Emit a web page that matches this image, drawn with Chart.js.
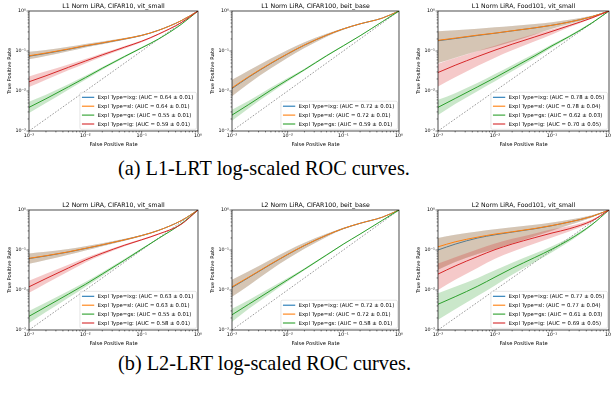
<!DOCTYPE html>
<html>
<head>
<meta charset="utf-8">
<script src="https://cdn.jsdelivr.net/npm/chart.js@4.4.1/dist/chart.umd.min.js"></script>
<style>
  html, body { margin: 0; padding: 0; background: #fff; overflow: hidden; }
  body { width: 611px; height: 394px; position: relative; }
  canvas { position: absolute; }
  .caption { position: absolute; left: 118px; font-family: "Liberation Serif", "Times New Roman", serif; font-size: 20.3px; line-height: 20.3px; white-space: nowrap; color: #000; }
</style>
</head>
<body>
<canvas id="p1" width="206" height="150" style="left:0px;top:0px"></canvas>
<canvas id="p2" width="204" height="150" style="left:203px;top:0px"></canvas>
<canvas id="p3" width="208" height="150" style="left:409px;top:0px"></canvas>
<canvas id="p4" width="206" height="150" style="left:0px;top:199px"></canvas>
<canvas id="p5" width="204" height="150" style="left:203px;top:199px"></canvas>
<canvas id="p6" width="208" height="150" style="left:409px;top:199px"></canvas>
<div class="caption" style="top:158px">(a) L1-LRT log-scaled ROC curves.</div>
<div class="caption" style="top:353px">(b) L2-LRT log-scaled ROC curves.</div>
<script>
// false positive rates where the curves are read
const FPR = [0.001, 0.002, 0.005, 0.01, 0.02, 0.05, 0.1, 0.2, 0.5, 1];
const MAJOR_TICKS = [0.001, 0.01, 0.1, 1];
const TICK_LABELS = ['10⁻³', '10⁻²', '10⁻¹', '10⁰'];

// L1 Norm LiRA, CIFAR10, vit_small
const L1_C10_IXG   = [0.074, 0.087, 0.110, 0.134, 0.158, 0.200, 0.245, 0.330, 0.570, 1];
const L1_C10_SL    = [0.076, 0.089, 0.112, 0.136, 0.160, 0.202, 0.246, 0.330, 0.570, 1];
const L1_C10_SL_LO = [0.062, 0.075, 0.098, 0.123, 0.148, 0.192, 0.238, 0.324, 0.566, 1];
const L1_C10_SL_HI = [0.096, 0.106, 0.128, 0.150, 0.173, 0.212, 0.255, 0.337, 0.575, 1];
const L1_C10_GS    = [0.0039, 0.0064, 0.0127, 0.0215, 0.037, 0.073, 0.120, 0.200, 0.460, 1];
const L1_C10_GS_LO = [0.0028, 0.0050, 0.0108, 0.0190, 0.034, 0.069, 0.115, 0.195, 0.455, 1];
const L1_C10_GS_HI = [0.0054, 0.0081, 0.0148, 0.0240, 0.040, 0.077, 0.125, 0.205, 0.465, 1];
const L1_C10_IG    = [0.017, 0.024, 0.039, 0.056, 0.080, 0.125, 0.175, 0.265, 0.510, 1];
const L1_C10_IG_LO = [0.0125, 0.019, 0.033, 0.049, 0.072, 0.116, 0.166, 0.255, 0.500, 1];
const L1_C10_IG_HI = [0.023, 0.031, 0.046, 0.063, 0.088, 0.134, 0.184, 0.275, 0.520, 1];
const L1_C10_AUC   = ['0.64 ± 0.01', '0.64 ± 0.01', '0.55 ± 0.01', '0.59 ± 0.01'];

// L1 Norm LiRA, CIFAR100, beit_base
const L1_C100_IXG   = [0.0115, 0.0222, 0.0488, 0.0845, 0.140, 0.248, 0.356, 0.477, 0.664, 1];
const L1_C100_SL    = [0.012, 0.0229, 0.0497, 0.0855, 0.141, 0.249, 0.357, 0.477, 0.664, 1];
const L1_C100_SL_LO = [0.0074, 0.0155, 0.0370, 0.0680, 0.119, 0.228, 0.342, 0.467, 0.659, 1];
const L1_C100_SL_HI = [0.019, 0.0325, 0.0650, 0.1060, 0.165, 0.270, 0.373, 0.487, 0.669, 1];
const L1_C100_GS    = [0.0025, 0.0046, 0.0105, 0.019, 0.034, 0.076, 0.135, 0.240, 0.540, 1];
const L1_C100_GS_LO = [0.0018, 0.0037, 0.0090, 0.0172, 0.032, 0.073, 0.131, 0.236, 0.535, 1];
const L1_C100_GS_HI = [0.0034, 0.0057, 0.0122, 0.021, 0.036, 0.079, 0.139, 0.244, 0.545, 1];
const L1_C100_AUC   = ['0.72 ± 0.01', '0.72 ± 0.01', '0.59 ± 0.01'];

// L1 Norm LiRA, Food101, vit_small
const L1_F101_IXG   = [0.180, 0.205, 0.245, 0.278, 0.318, 0.378, 0.440, 0.530, 0.720, 1];
const L1_F101_SL    = [0.185, 0.210, 0.250, 0.280, 0.320, 0.380, 0.440, 0.530, 0.720, 1];
const L1_F101_SL_LO = [0.050, 0.068, 0.100, 0.128, 0.170, 0.260, 0.360, 0.470, 0.690, 1];
const L1_F101_SL_HI = [0.310, 0.330, 0.360, 0.390, 0.420, 0.470, 0.520, 0.600, 0.760, 1];
const L1_F101_GS    = [0.0039, 0.0065, 0.0128, 0.0215, 0.037, 0.076, 0.135, 0.230, 0.500, 1];
const L1_F101_GS_LO = [0.0025, 0.0047, 0.0100, 0.0175, 0.031, 0.067, 0.123, 0.215, 0.480, 1];
const L1_F101_GS_HI = [0.0060, 0.0088, 0.0160, 0.0265, 0.044, 0.086, 0.147, 0.245, 0.520, 1];
const L1_F101_IG    = [0.029, 0.044, 0.073, 0.105, 0.148, 0.225, 0.310, 0.430, 0.670, 1];
const L1_F101_IG_LO = [0.013, 0.022, 0.043, 0.068, 0.104, 0.175, 0.260, 0.390, 0.650, 1];
const L1_F101_IG_HI = [0.048, 0.067, 0.100, 0.135, 0.183, 0.265, 0.350, 0.460, 0.690, 1];
const L1_F101_AUC   = ['0.78 ± 0.05', '0.78 ± 0.04', '0.62 ± 0.03', '0.70 ± 0.05'];

// L2 Norm LiRA, CIFAR10, vit_small
const L2_C10_IXG   = [0.061, 0.071, 0.089, 0.109, 0.134, 0.180, 0.230, 0.310, 0.540, 1];
const L2_C10_SL    = [0.062, 0.072, 0.090, 0.110, 0.135, 0.180, 0.230, 0.310, 0.540, 1];
const L2_C10_SL_LO = [0.045, 0.056, 0.076, 0.097, 0.124, 0.171, 0.222, 0.305, 0.535, 1];
const L2_C10_SL_HI = [0.082, 0.090, 0.106, 0.124, 0.147, 0.190, 0.238, 0.315, 0.545, 1];
const L2_C10_GS    = [0.0022, 0.0038, 0.0079, 0.0138, 0.0251, 0.056, 0.105, 0.195, 0.447, 1];
const L2_C10_GS_LO = [0.0015, 0.0028, 0.0064, 0.0119, 0.0225, 0.052, 0.100, 0.190, 0.442, 1];
const L2_C10_GS_HI = [0.0030, 0.0049, 0.0095, 0.0158, 0.0278, 0.060, 0.110, 0.200, 0.452, 1];
const L2_C10_IG    = [0.012, 0.0193, 0.0355, 0.056, 0.083, 0.132, 0.180, 0.251, 0.436, 1];
const L2_C10_IG_LO = [0.0085, 0.0145, 0.029, 0.049, 0.075, 0.124, 0.172, 0.244, 0.430, 1];
const L2_C10_IG_HI = [0.017, 0.0255, 0.043, 0.064, 0.091, 0.140, 0.188, 0.258, 0.442, 1];
const L2_C10_AUC   = ['0.63 ± 0.01', '0.63 ± 0.01', '0.55 ± 0.01', '0.58 ± 0.01'];

// L2 Norm LiRA, CIFAR100, beit_base
const L2_C100_IXG   = [0.0115, 0.0205, 0.044, 0.077, 0.129, 0.234, 0.344, 0.465, 0.660, 1];
const L2_C100_SL    = [0.012, 0.021, 0.045, 0.078, 0.130, 0.235, 0.345, 0.465, 0.660, 1];
const L2_C100_SL_LO = [0.0068, 0.0130, 0.032, 0.060, 0.108, 0.212, 0.328, 0.455, 0.655, 1];
const L2_C100_SL_HI = [0.018, 0.0295, 0.058, 0.096, 0.152, 0.256, 0.362, 0.475, 0.665, 1];
const L2_C100_GS    = [0.0024, 0.0044, 0.0098, 0.018, 0.033, 0.075, 0.140, 0.250, 0.550, 1];
const L2_C100_GS_LO = [0.0016, 0.0034, 0.0083, 0.0162, 0.031, 0.072, 0.136, 0.246, 0.545, 1];
const L2_C100_GS_HI = [0.0034, 0.0056, 0.0115, 0.020, 0.035, 0.078, 0.144, 0.254, 0.555, 1];
const L2_C100_AUC   = ['0.72 ± 0.01', '0.72 ± 0.01', '0.58 ± 0.01'];

// L2 Norm LiRA, Food101, vit_small
const L2_F101_IXG   = [0.100, 0.140, 0.200, 0.240, 0.280, 0.340, 0.405, 0.500, 0.690, 1];
const L2_F101_SL    = [0.120, 0.160, 0.210, 0.250, 0.285, 0.345, 0.410, 0.500, 0.690, 1];
const L2_F101_SL_LO = [0.032, 0.050, 0.080, 0.105, 0.145, 0.220, 0.305, 0.420, 0.650, 1];
const L2_F101_SL_HI = [0.200, 0.240, 0.290, 0.330, 0.370, 0.430, 0.490, 0.570, 0.740, 1];
const L2_F101_GS    = [0.0044, 0.0068, 0.0125, 0.021, 0.035, 0.065, 0.105, 0.180, 0.430, 1];
const L2_F101_GS_LO = [0.0018, 0.0033, 0.0072, 0.013, 0.024, 0.050, 0.088, 0.160, 0.410, 1];
const L2_F101_GS_HI = [0.0083, 0.012, 0.020, 0.031, 0.048, 0.082, 0.124, 0.200, 0.450, 1];
const L2_F101_IG    = [0.025, 0.0398, 0.069, 0.102, 0.141, 0.204, 0.266, 0.339, 0.537, 1];
const L2_F101_IG_LO = [0.010, 0.018, 0.036, 0.060, 0.090, 0.145, 0.205, 0.290, 0.500, 1];
const L2_F101_IG_HI = [0.046, 0.066, 0.105, 0.145, 0.190, 0.260, 0.330, 0.400, 0.580, 1];
const L2_F101_AUC   = ['0.77 ± 0.05', '0.77 ± 0.04', '0.61 ± 0.03', '0.69 ± 0.05'];

const COLORS = { ixg: '#1f77b4', sl: '#ff7f0e', gs: '#2ca02c', ig: '#d62728' };
const FONT = '"DejaVu Sans", sans-serif';

function withAlpha(hex, a) {
    const n = parseInt(hex.slice(1), 16);
    return `rgba(${n >> 16}, ${(n >> 8) & 255}, ${n & 255}, ${a})`;
}

function points(values) {
    return FPR.map((x, i) => ({ x: x, y: values[i] }));
}

// major + minor tick positions on a log axis
function logTicks() {
    const ticks = [];
    MAJOR_TICKS.forEach((v, i) => {
        ticks.push({ value: v, major: true });
        if (i < MAJOR_TICKS.length - 1) {
            for (let d = 2; d <= 9; d++) ticks.push({ value: d * v, major: false });
        }
    });
    return ticks;
}

function tickLabel(value) {
    const i = MAJOR_TICKS.indexOf(value);
    return i >= 0 ? TICK_LABELS[i] : '';
}

// frame, tick marks, title and legend box
const decoPlugin = {
    id: 'deco',
    afterDraw(chart, args, opts) {
        const { ctx, chartArea: a } = chart;
        ctx.save();
        ctx.strokeStyle = '#000';
        ctx.lineWidth = 0.5;
        ctx.beginPath();
        chart.scales.x.ticks.forEach(t => {
            const px = chart.scales.x.getPixelForValue(t.value);
            ctx.moveTo(px, a.bottom);
            ctx.lineTo(px, a.bottom + (t.major ? 2.5 : 1.4));
        });
        chart.scales.y.ticks.forEach(t => {
            const py = chart.scales.y.getPixelForValue(t.value);
            ctx.moveTo(a.left, py);
            ctx.lineTo(a.left - (t.major ? 2.5 : 1.4), py);
        });
        ctx.stroke();
        ctx.lineWidth = 0.7;
        ctx.strokeRect(a.left, a.top, a.right - a.left, a.bottom - a.top);

        ctx.fillStyle = '#000';
        ctx.font = '6.2px ' + FONT;
        ctx.textAlign = 'center';
        ctx.textBaseline = 'middle';
        ctx.fillText(opts.title, (a.left + a.right) / 2, a.top - 5);

        // legend
        const items = opts.items;
        ctx.font = '5.3px ' + FONT;
        const textW = Math.max(...items.map(it => ctx.measureText(it.label).width));
        const boxW = textW + 21;
        const boxH = 10.3 + (items.length - 1) * 8.9;
        const bx = a.right - 1.5 - boxW;
        const by = a.bottom - 1.7 - boxH;
        ctx.beginPath();
        ctx.roundRect(bx, by, boxW, boxH, 1.5);
        ctx.fillStyle = 'rgba(255,255,255,0.8)';
        ctx.fill();
        ctx.strokeStyle = '#cccccc';
        ctx.lineWidth = 0.5;
        ctx.stroke();
        ctx.textAlign = 'left';
        items.forEach((it, i) => {
            const cy = by + 5 + i * 8.9;
            ctx.strokeStyle = it.color;
            ctx.lineWidth = 1.1;
            ctx.beginPath();
            ctx.moveTo(bx + 2, cy);
            ctx.lineTo(bx + 14.3, cy);
            ctx.stroke();
            ctx.fillStyle = '#000';
            ctx.fillText(it.label, bx + 17.7, cy + 0.3);
        });
        ctx.restore();
    }
};

function makePanel(id, title, series, auc) {
    const datasets = [{
        data: [{ x: 0.001, y: 0.001 }, { x: 1, y: 1 }],
        borderColor: '#555',
        borderWidth: 0.6,
        borderDash: [1.6, 1.6],
        pointRadius: 0,
        fill: false,
        order: 500
    }];
    const items = [];
    series.forEach((s, k) => {
        const [type, mean, lo, hi] = s;
        const color = COLORS[type];
        const base = 100 - 10 * k;
        datasets.push({
            data: points(hi), borderWidth: 0, pointRadius: 0, fill: false,
            cubicInterpolationMode: 'monotone', order: base + 2
        });
        datasets.push({
            data: points(lo), borderWidth: 0, pointRadius: 0, fill: '-1',
            backgroundColor: withAlpha(color, 0.25),
            cubicInterpolationMode: 'monotone', order: base + 1
        });
        datasets.push({
            data: points(mean), borderColor: color, borderWidth: 1, pointRadius: 0, fill: false,
            cubicInterpolationMode: 'monotone', order: base
        });
        items.push({ label: `Expl Type=${type}: (AUC = ${auc[k]})`, color: color });
    });

    new Chart(document.getElementById(id), {
        type: 'line',
        data: { datasets: datasets },
        options: {
            responsive: false,
            animation: false,
            events: [],
            layout: { padding: { left: 0, top: 11, right: 8, bottom: 0 } },
            plugins: {
                legend: { display: false },
                tooltip: { enabled: false },
                deco: { title: title, items: items }
            },
            scales: {
                x: {
                    type: 'logarithmic', min: 0.001, max: 1,
                    afterBuildTicks: s => { s.ticks = logTicks(); },
                    afterFit: s => {
                        s.height = 19;
                        s.paddingLeft = 0; s.paddingRight = 0;
                    },
                    grid: { display: false, drawTicks: false },
                    border: { display: false },
                    ticks: {
                        autoSkip: false, maxRotation: 0, padding: 2, color: '#000',
                        font: { family: FONT, size: 4.8 },
                        callback: v => tickLabel(v)
                    },
                    title: {
                        display: true, text: 'False Positive Rate', color: '#000',
                        font: { family: FONT, size: 5.2 }, padding: { top: 0, bottom: 2.3 }
                    }
                },
                y: {
                    type: 'logarithmic', min: 0.001, max: 1,
                    afterBuildTicks: s => { s.ticks = logTicks(); },
                    afterFit: s => {
                        s.width = 29;
                        s.paddingTop = 0; s.paddingBottom = 0;
                    },
                    grid: { display: false, drawTicks: false },
                    border: { display: false },
                    ticks: {
                        autoSkip: false, padding: 3, color: '#000',
                        font: { family: FONT, size: 4.8 },
                        callback: v => tickLabel(v)
                    },
                    title: {
                        display: true, text: 'True Positive Rate', color: '#000',
                        font: { family: FONT, size: 5.2 }, padding: { top: 6.2, bottom: 0 }
                    }
                }
            }
        },
        plugins: [decoPlugin]
    });
}

makePanel('p1', 'L1 Norm LiRA, CIFAR10, vit_small', [
    ['ixg', L1_C10_IXG, L1_C10_SL_LO, L1_C10_SL_HI],
    ['sl', L1_C10_SL, L1_C10_SL_LO, L1_C10_SL_HI],
    ['gs', L1_C10_GS, L1_C10_GS_LO, L1_C10_GS_HI],
    ['ig', L1_C10_IG, L1_C10_IG_LO, L1_C10_IG_HI]
], L1_C10_AUC);

makePanel('p2', 'L1 Norm LiRA, CIFAR100, beit_base', [
    ['ixg', L1_C100_IXG, L1_C100_SL_LO, L1_C100_SL_HI],
    ['sl', L1_C100_SL, L1_C100_SL_LO, L1_C100_SL_HI],
    ['gs', L1_C100_GS, L1_C100_GS_LO, L1_C100_GS_HI]
], L1_C100_AUC);

makePanel('p3', 'L1 Norm LiRA, Food101, vit_small', [
    ['ixg', L1_F101_IXG, L1_F101_SL_LO, L1_F101_SL_HI],
    ['sl', L1_F101_SL, L1_F101_SL_LO, L1_F101_SL_HI],
    ['gs', L1_F101_GS, L1_F101_GS_LO, L1_F101_GS_HI],
    ['ig', L1_F101_IG, L1_F101_IG_LO, L1_F101_IG_HI]
], L1_F101_AUC);

makePanel('p4', 'L2 Norm LiRA, CIFAR10, vit_small', [
    ['ixg', L2_C10_IXG, L2_C10_SL_LO, L2_C10_SL_HI],
    ['sl', L2_C10_SL, L2_C10_SL_LO, L2_C10_SL_HI],
    ['gs', L2_C10_GS, L2_C10_GS_LO, L2_C10_GS_HI],
    ['ig', L2_C10_IG, L2_C10_IG_LO, L2_C10_IG_HI]
], L2_C10_AUC);

makePanel('p5', 'L2 Norm LiRA, CIFAR100, beit_base', [
    ['ixg', L2_C100_IXG, L2_C100_SL_LO, L2_C100_SL_HI],
    ['sl', L2_C100_SL, L2_C100_SL_LO, L2_C100_SL_HI],
    ['gs', L2_C100_GS, L2_C100_GS_LO, L2_C100_GS_HI]
], L2_C100_AUC);

makePanel('p6', 'L2 Norm LiRA, Food101, vit_small', [
    ['ixg', L2_F101_IXG, L2_F101_SL_LO, L2_F101_SL_HI],
    ['sl', L2_F101_SL, L2_F101_SL_LO, L2_F101_SL_HI],
    ['gs', L2_F101_GS, L2_F101_GS_LO, L2_F101_GS_HI],
    ['ig', L2_F101_IG, L2_F101_IG_LO, L2_F101_IG_HI]
], L2_F101_AUC);
</script>
</body>
</html>
